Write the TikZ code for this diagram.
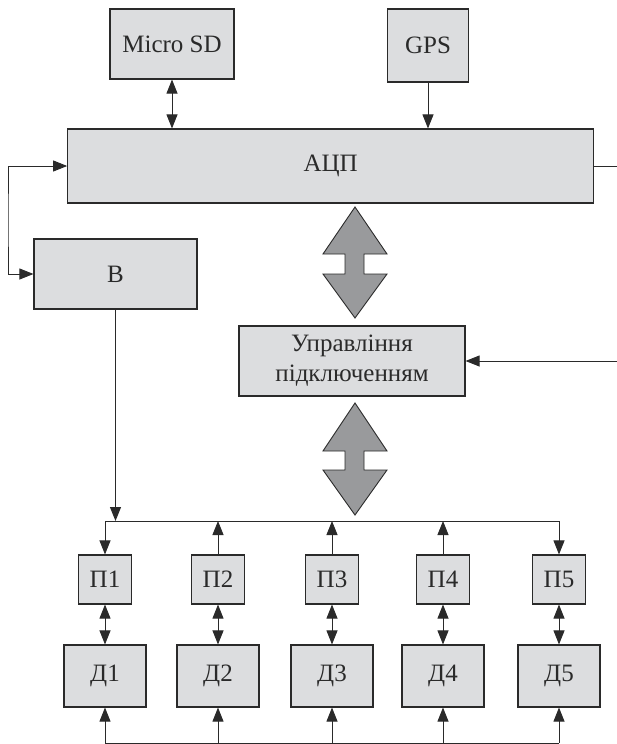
\documentclass[tikz,border=0pt]{standalone}
\usepackage{fontspec}
\setmainfont{Liberation Serif}
\usepackage{xcolor}
\usetikzlibrary{arrows.meta}
\definecolor{boxgray}{HTML}{DCDDDF}
\definecolor{biggray}{HTML}{999A9C}
\definecolor{edgegray}{HTML}{2A2A2A}

\begin{document}
\begin{tikzpicture}[
	x=1pt, y=-1pt,
	every node/.style = {font=\fontsize{25}{30}\selectfont, text=edgegray},
	blk/.style = {rectangle, draw=edgegray, fill=boxgray, line width=1.1pt, inner sep=0pt},
	big/.style = {draw=edgegray, fill=biggray, line width=0.9pt, line join=miter},
	r/.style = {-{Triangle[length=14pt,width=11pt]}, line width=0.9pt, draw=edgegray},
	rr/.style = {{Triangle[length=14pt,width=11pt]}-{Triangle[length=14pt,width=11pt]}, line width=0.9pt, draw=edgegray},
	l/.style = {line width=0.9pt, draw=edgegray}
	]
	\useasboundingbox (0,0) rectangle (617,744);
	
	% === === Nodes === ===
	\node[blk, minimum width=124, minimum height=70]	(sd)	at	(172, 44)	{Micro SD};
	\node[blk, minimum width=81, minimum height=73]	(gps)	at	(428, 45.5)	{GPS};
	\node[blk, minimum width=526, minimum height=74]	(adc)	at	(330.7, 166)	{АЦП};
	\node[blk, minimum width=163, minimum height=70]	(b)	at	(115.5, 274)	{В};
	\node[blk, minimum width=226, minimum height=70, align=center]	(ctrl)	at	(352, 361)	{Управління\\підключенням};
	
	\node[blk, minimum width=52.5, minimum height=49]	(p1)	at	(105, 579.5)	{П1};
	\node[blk, minimum width=52.5, minimum height=49]	(p2)	at	(218, 579.5)	{П2};
	\node[blk, minimum width=52.5, minimum height=49]	(p3)	at	(332, 579.5)	{П3};
	\node[blk, minimum width=52.5, minimum height=49]	(p4)	at	(443, 579.5)	{П4};
	\node[blk, minimum width=52.5, minimum height=49]	(p5)	at	(559, 579.5)	{П5};
	
	\node[blk, minimum width=82, minimum height=62]	(d1)	at	(105, 676)	{Д1};
	\node[blk, minimum width=82, minimum height=62]	(d2)	at	(218, 676)	{Д2};
	\node[blk, minimum width=82, minimum height=62]	(d3)	at	(332, 676)	{Д3};
	\node[blk, minimum width=82, minimum height=62]	(d4)	at	(443, 676)	{Д4};
	\node[blk, minimum width=82, minimum height=62]	(d5)	at	(559, 676)	{Д5};
	
	\coordinate	(loop)	at	(8, 220);
	\coordinate	(adcout)	at	(617, 166);
	\coordinate	(ctrlin)	at	(617, 361);
	\coordinate	(busL)	at	(105, 521);
	\coordinate	(busR)	at	(559, 521);
	\coordinate	(botL)	at	(105, 743);
	\coordinate	(botR)	at	(559, 743);
	
	% === === Big arrows === ===
	\draw[big]	(355, 207) -- ++(32, 47) -- ++(-23, 0) -- ++(0, 20) -- ++(23, 0) -- ++(-32, 44)
		-- ++(-32, -44) -- ++(22, 0) -- ++(0, -20) -- ++(-22, 0) -- cycle;
	\draw[big]	(355, 403) -- ++(32, 48) -- ++(-23, 0) -- ++(0, 19) -- ++(23, 0) -- ++(-32, 45)
		-- ++(-32, -45) -- ++(22, 0) -- ++(0, -19) -- ++(-22, 0) -- cycle;
	
	% === === Lines === ===
	\draw[rr]	(sd.south)	to	(sd.south |- adc.north);
	\draw[r]	(gps.south)	to	(gps.south |- adc.north);
	\draw[rr]	(adc.west)	-|	(loop)	|-	(b.west);
	\draw[l]	(adc.east)	to	(adcout);
	\draw[r]	(ctrlin)	to	(ctrl.east);
	\draw[r]	(b.south)	to	(b.south |- busL);
	
	\draw[l]	(busL)	to	(busR);
	\draw[r]	(busL)	to	(p1.north);
	\draw[r]	(p2.north)	to	(p2.north |- busL);
	\draw[r]	(p3.north)	to	(p3.north |- busL);
	\draw[r]	(p4.north)	to	(p4.north |- busL);
	\draw[r]	(busR)	to	(p5.north);
	
	\draw[rr]	(p1.south)	to	(d1.north);
	\draw[rr]	(p2.south)	to	(d2.north);
	\draw[rr]	(p3.south)	to	(d3.north);
	\draw[rr]	(p4.south)	to	(d4.north);
	\draw[rr]	(p5.south)	to	(d5.north);
	
	\draw[l]	(botL)	to	(botR);
	\draw[r]	(botL)	to	(d1.south);
	\draw[r]	(d2.south |- botL)	to	(d2.south);
	\draw[r]	(d3.south |- botL)	to	(d3.south);
	\draw[r]	(d4.south |- botL)	to	(d4.south);
	\draw[r]	(botR)	to	(d5.south);
	
\end{tikzpicture}
\end{document}
